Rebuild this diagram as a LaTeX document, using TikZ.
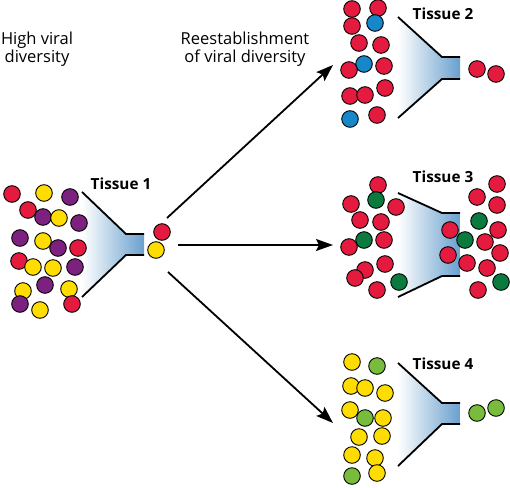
\documentclass[tikz,border=0pt]{standalone}
\usepackage{fontspec}
\setmainfont{Open Sans}
\usetikzlibrary{
    arrows.meta
}
\definecolor{vred}{RGB}{228,27,62}
\definecolor{vyellow}{RGB}{255,221,0}
\definecolor{vpurple}{RGB}{125,33,128}
\definecolor{vblue}{RGB}{22,135,200}
\definecolor{vgreen}{RGB}{10,122,62}
\definecolor{vlime}{RGB}{120,188,60}
\definecolor{funnelblue}{RGB}{105,160,205}

\begin{document}
\begin{tikzpicture}[x=1pt, y=-1pt,
    ball/.style={draw=black, line width=0.9pt},
    funnelline/.style={line width=1.8pt},
    spread/.style={line width=1.8pt, -{Stealth[length=17pt,width=12pt,inset=3pt]}},
    caption/.style={font=\fontsize{16.5}{18}\selectfont, align=center},
    tissue/.style={font=\fontsize{15.3}{17}\selectfont\bfseries}]
                    \useasboundingbox (0,0) rectangle (510,487);

                    % funnels
                    \foreach \x/\t/\b/\st/\sb in {82/192/297/234/255, 398/17/118/57/79, 398/193/297/213/276, 398/363/466/403/424}{
                        \shade[left color=white, middle color=funnelblue!55, right color=funnelblue] (\x,\t) -- (\x+44,\st) -- (\x+62,\st) -- (\x+62,\sb) -- (\x+44,\sb) -- (\x,\b) -- cycle;
                        \draw[funnelline] (\x,\t) -- (\x+44,\st) -- (\x+62,\st);
                        \draw[funnelline] (\x,\b) -- (\x+44,\sb) -- (\x+62,\sb);
                    }

                    \node[caption] (high) at (37,49) {High viral\\diversity};
                    \node[caption] (reest) at (245,49) {Reestablishment\\of viral diversity};
                    \node[tissue] (tissue1) at (121,184) {Tissue 1};
                    \node[tissue] (tissue2) at (443,14) {Tissue 2};
                    \node[tissue] (tissue3) at (443,177) {Tissue 3};
                    \node[tissue] (tissue4) at (443,364) {Tissue 4};

                    % tissue 1
                    \foreach \x/\y/\c in {12/194/vred, 44/193/vyellow, 70/197/vpurple, 28/210/vred, 43/217/vpurple, 59/218/vyellow,
                        79/223/vpurple, 20/238/vpurple, 43/241/vyellow, 58/248/vpurple, 78/248/vred, 19/261/vred, 33/267/vyellow,
                        53/268/vyellow, 75/267/vpurple, 45/285/vpurple, 23/291/vyellow, 69/289/vyellow, 20/304/vpurple,
                        40/310/vyellow, 72/304/vred, 162/232/vred, 156/250/vyellow}
                        \draw[ball, fill=\c] (\x,\y) circle (8.3pt);

                    % tissue 2
                    \foreach \x/\y/\c in {352/9/vred, 378/8/vred, 375/23/vblue, 352/26/vred, 359/43/vred, 381/45/vred, 364/64/vblue,
                        349/70/vred, 384/66/vred, 350/96/vred, 365/95/vred, 385/88/vred, 350/119/vblue, 377/115/vred,
                        477/69/vred, 496/74/vred}
                        \draw[ball, fill=\c] (\x,\y) circle (8.3pt);

                    % tissue 3
                    \foreach \x/\y/\c in {378/185/vred, 376/200/vgreen, 351/204/vred, 396/207/vred, 360/220/vred, 381/222/vred,
                        364/240/vgreen, 349/247/vred, 384/240/vred, 385/264/vred, 365/270/vred, 355/278/vred, 377/290/vred,
                        399/282/vgreen, 450/230/vred, 448/255/vred, 465/240/vgreen, 497/184/vred, 477/197/vred, 497/205/vred,
                        479/221/vgreen, 498/230/vred, 485/242/vred, 500/253/vred, 467/263/vred, 487/268/vred, 501/282/vgreen,
                        478/290/vred}
                        \draw[ball, fill=\c] (\x,\y) circle (8.3pt);

                    % tissue 4
                    \foreach \x/\y/\c in {352/362/vyellow, 377/366/vlime, 351/386/vyellow, 365/388/vyellow, 385/393/vyellow,
                        350/410/vyellow, 365/418/vlime, 383/418/vyellow, 359/437/vyellow, 382/436/vyellow, 352/455/vyellow,
                        375/458/vyellow, 352/476/vlime, 377/473/vyellow, 477/413/vlime, 496/408/vlime}
                        \draw[ball, fill=\c] (\x,\y) circle (8.3pt);

                    \coordinate (src2) at (167,218);
                    \coordinate (dst2) at (333,65);
                    \coordinate (src3) at (178,245);
                    \coordinate (dst3) at (333,245);
                    \coordinate (src4) at (168,272);
                    \coordinate (dst4) at (333,423);
                    \draw[spread] (src2) -- (dst2);
                    \draw[spread] (src3) -- (dst3);
                    \draw[spread] (src4) -- (dst4);
                \end{tikzpicture}
\end{document}
